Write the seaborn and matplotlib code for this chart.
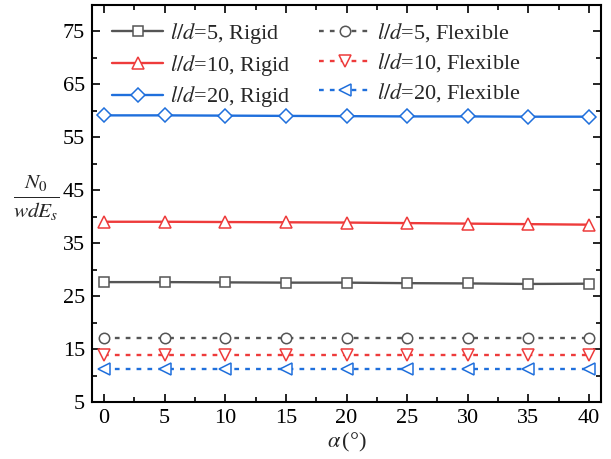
import numpy as np
import pandas as pd
import seaborn as sns
import matplotlib
matplotlib.use("Agg")
import matplotlib.pyplot as plt
from matplotlib.ticker import MultipleLocator

alpha = [0, 5, 10, 15, 20, 25, 30, 35, 40]
rigid_5 = [27.65, 27.65, 27.6, 27.55, 27.55, 27.45, 27.4, 27.3, 27.35]
rigid_10 = [39.05, 39.05, 39.0, 38.95, 38.9, 38.8, 38.7, 38.6, 38.5]
rigid_20 = [59.15, 59.15, 59.1, 59.05, 59.0, 58.95, 58.95, 58.9, 58.9]
flex_5 = [17.05] * 9
flex_10 = [13.8] * 9
flex_20 = [11.3] * 9

labels = [r"$l/d$=5, Rigid", r"$l/d$=10, Rigid", r"$l/d$=20, Rigid",
          r"$l/d$=5, Flexible", r"$l/d$=10, Flexible", r"$l/d$=20, Flexible"]
series = [rigid_5, rigid_10, rigid_20, flex_5, flex_10, flex_20]
colors = ["#555555", "#ee3b3b", "#1f6fdc", "#555555", "#ee3b3b", "#1f6fdc"]
markers = ["s", "^", "D", "o", "v", "<"]
msizes = [7, 8.5, 7, 7.5, 8.5, 8.5]
dashed = [False, False, False, True, True, True]

sns.set_theme(style="ticks")
plt.rcParams["font.family"] = ["Liberation Serif", "DejaVu Serif"]
plt.rcParams["mathtext.fontset"] = "stix"

fig = plt.figure(figsize=(6.11, 4.59), dpi=100)
ax = fig.add_axes([92 / 611, 1 - 402 / 459, (601 - 92) / 611, (402 - 5) / 459])

for lab, vals, c, m, ms, d in zip(labels, series, colors, markers, msizes, dashed):
    df = pd.DataFrame({"alpha": alpha, "val": vals})
    sns.lineplot(data=df, x="alpha", y="val", ax=ax, color=c, marker=m,
                 markersize=ms, markerfacecolor="white", markeredgecolor=c,
                 markeredgewidth=1.1, linewidth=1.7,
                 linestyle=(0, (2, 2.6)) if d else "-", label=lab)

ax.set_xlim(-1, 41)
ax.set_ylim(5, 80)
ax.xaxis.set_major_locator(MultipleLocator(5))
ax.xaxis.set_minor_locator(MultipleLocator(2.5))
ax.set_yticks([5, 15, 25, 35, 45, 55, 65, 75])
ax.yaxis.set_minor_locator(MultipleLocator(5))
ax.tick_params(which="both", direction="in", top=True, right=True, width=1.2, colors="black")
ax.tick_params(which="major", length=6, labelsize=16, pad=5)
ax.tick_params(which="minor", length=3.5)
for s in ax.spines.values():
    s.set_linewidth(1.5)
    s.set_color("black")

ax.set_xlabel(r"$\alpha\,$(°)", fontsize=16, labelpad=2)
ax.set_ylabel(r"$\frac{N_0}{wdE_s}$", fontsize=22, rotation=0, va="center")
ax.yaxis.set_label_coords(-0.11, 0.515)

leg = ax.legend(ncol=2, loc="upper left", frameon=False, fontsize=16,
                handlelength=2.3, columnspacing=1.3, handletextpad=0.3,
                labelspacing=0.3, bbox_to_anchor=(0.0, 1.01))

fig.savefig("out.png", dpi=100)
